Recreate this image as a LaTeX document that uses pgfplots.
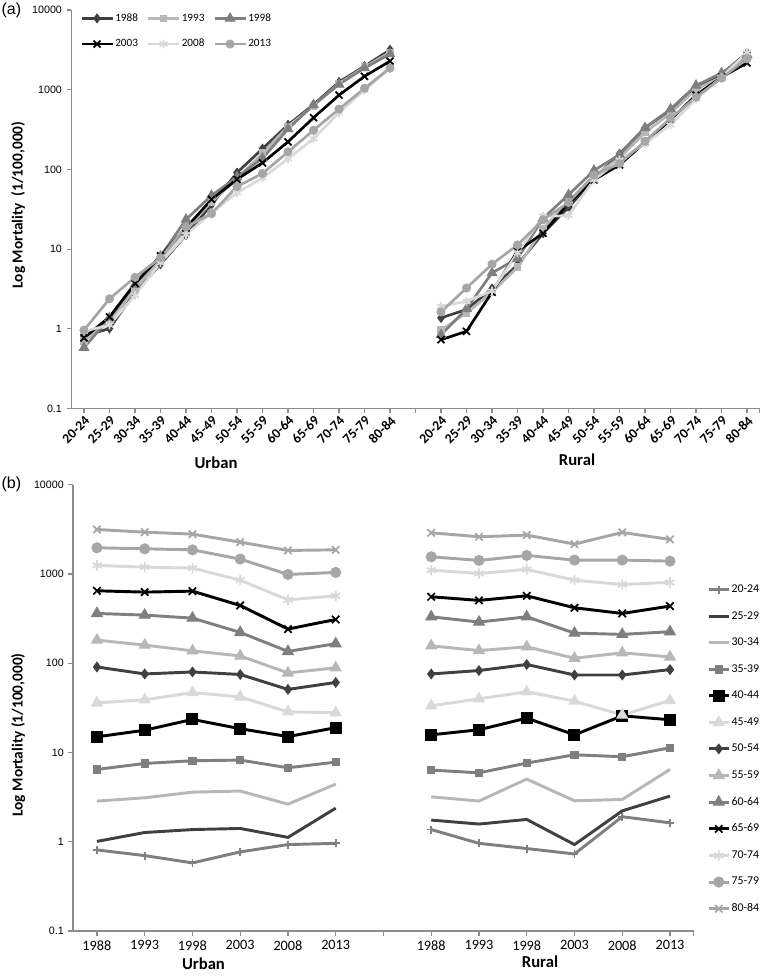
\documentclass[border=0pt]{standalone}
\usepackage{pgfplots}
\usepackage{pgfplotstable}
\pgfplotsset{compat=1.18}
\usepackage{fontspec}
\setmainfont{Carlito}
\newfontfamily\arialfont{Liberation Sans}
\definecolor{cA}{HTML}{404040}
\definecolor{cB}{HTML}{B7B7B7}
\definecolor{cC}{HTML}{7F7F7F}
\definecolor{cD}{HTML}{000000}
\definecolor{cE}{HTML}{D9D9D9}
\definecolor{cF}{HTML}{A6A6A6}
\definecolor{axgray}{HTML}{8C8C8C}

% Panel (a): rows = age groups (urban 0-12, gap 13, rural 14-26), columns = years
\pgfplotstableread{
x  y1988 y1993 y1998 y2003 y2008 y2013
0  0.81 0.70 0.58 0.77 0.93 0.96
1  1.01 1.27 1.37 1.41 1.12 2.38
2  2.86 3.11 3.60 3.70 2.64 4.43
3  6.47 7.55 8.09 8.23 6.75 7.81
4  15.0 17.8 23.5 18.5 15.1 19.0
5  36 39 47 42 28.6 27.9
6  91 76 80 75 51 61
7  182 160 138 121 78 89
8  362 347 321 222 136 166
9  650 628 644 445 242 310
10 1250 1197 1167 855 515 571
11 1972 1920 1870 1472 991 1043
12 3162 2950 2805 2280 1840 1870
13 nan nan nan nan nan nan
14 1.37 0.96 0.84 0.73 1.91 1.63
15 1.75 1.58 1.78 0.93 2.22 3.25
16 3.19 2.86 5.04 2.88 2.98 6.47
17 6.36 5.93 7.62 9.44 8.97 11.3
18 15.8 18.0 24.3 15.8 25.8 23.3
19 33.4 40 48 37.7 26.3 38.4
20 76 83 97 74 74 85
21 157 139 153 114 131 118
22 332 290 332 218 211 226
23 557 507 571 419 362 438
24 1107 1016 1128 855 765 806
25 1563 1422 1618 1435 1435 1397
26 2904 2620 2735 2168 2930 2444
}\tabA

% Panel (b): rows = years (urban 0-5, gap 6, rural 7-12), columns = age groups
\pgfplotstableread{
x  a20 a25 a30 a35 a40 a45 a50 a55 a60 a65 a70 a75 a80
0  0.81 1.01 2.86 6.47 15.0 36 91 182 362 650 1250 1972 3162
1  0.70 1.27 3.11 7.55 17.8 39 76 160 347 628 1197 1920 2950
2  0.58 1.37 3.60 8.09 23.5 47 80 138 321 644 1167 1870 2805
3  0.77 1.41 3.70 8.23 18.5 42 75 121 222 445 855 1472 2280
4  0.93 1.12 2.64 6.75 15.1 28.6 51 78 136 242 515 991 1840
5  0.96 2.38 4.43 7.81 19.0 27.9 61 89 166 310 571 1043 1870
6  nan nan nan nan nan nan nan nan nan nan nan nan nan
7  1.37 1.75 3.19 6.36 15.8 33.4 76 157 332 557 1107 1563 2904
8  0.96 1.58 2.86 5.93 18.0 40 83 139 290 507 1016 1422 2620
9  0.84 1.78 5.04 7.62 24.3 48 97 153 332 571 1128 1618 2735
10 0.73 0.93 2.88 9.44 15.8 37.7 74 114 218 419 855 1435 2168
11 1.91 2.22 2.98 8.97 25.8 26.3 74 131 211 362 765 1435 2930
12 1.63 3.25 6.47 11.3 23.3 38.4 85 118 226 438 806 1397 2444
}\tabB

\pgfplotsset{
  rsaxis/.style={
    scale only axis, anchor=south west,
    axis x line*=bottom, axis y line*=left,
    axis line style={draw=axgray, line width=0.9pt},
    tick style={draw=axgray, line width=0.9pt},
    tick align=outside, major tick length=3.5pt,
    ymin=0.1, ymax=10000,
    ytick={0.1,1,10,100,1000,10000},
    yticklabels={0.1,1,10,100,1000,10000},
    yminorticks=false,
    y tick label style={font=\arialfont\fontsize{8}{9}\selectfont},
    unbounded coords=jump,
    clip=false,
  },
  rsser/.style n args={4}{color=#1, line width=#4, mark=#2, mark size=#3,
    mark options={solid, line width=0.8pt, fill=#1, draw=#1}},
  rsserx/.style n args={4}{color=#1, line width=#4, mark=#2, mark size=#3,
    mark options={solid, line width=1.3pt, draw=#1}},
}

\begin{document}
\begin{tikzpicture}
\useasboundingbox (0,0) rectangle (570pt,735pt);

% ---------------- Panel (a) ----------------
\begin{semilogyaxis}[rsaxis,
  at={(53.44pt,428.6pt)}, width=516.4pt, height=298.9pt,
  xmin=-0.5, xmax=26.5,
  xtick={0,...,26},
  xticklabels={20-24,25-29,30-34,35-39,40-44,45-49,50-54,55-59,60-64,65-69,70-74,75-79,80-84,{},20-24,25-29,30-34,35-39,40-44,45-49,50-54,55-59,60-64,65-69,70-74,75-79,80-84},
  extra x ticks={26.5}, extra x tick labels={},
  x tick label style={rotate=45, anchor=north east, font=\bfseries\fontsize{10.3}{11}\selectfont, inner sep=1pt},
  legend columns=3,
  legend style={at={(axis description cs:0.0127,0.995)}, anchor=north west,
    draw=none, fill=none, inner sep=0pt, font=\fontsize{8.4}{9}\selectfont,
    nodes={inner sep=1pt}, row sep=10pt,
    /tikz/every even column/.append style={column sep=5.6pt}},
  legend image code/.code={\draw[mark repeat=2,mark phase=2,#1] plot coordinates {(0pt,0pt) (11.6pt,0pt) (23.25pt,0pt)};},
]
\addplot[rsser={cA}{diamond*}{3.2pt}{2pt}] table[x=x,y=y1988]{\tabA};
\addplot[rsser={cB}{square*}{2.4pt}{2pt}] table[x=x,y=y1993]{\tabA};
\addplot[rsser={cC}{triangle*}{4pt}{2pt}] table[x=x,y=y1998]{\tabA};
\addplot[rsserx={cD}{x}{3.7pt}{2pt}] table[x=x,y=y2003]{\tabA};
\addplot[rsserx={cE}{asterisk}{3.3pt}{2pt}] table[x=x,y=y2008]{\tabA};
\addplot[rsser={cF}{*}{3pt}{2pt}] table[x=x,y=y2013]{\tabA};
\legend{1988,1993,1998,2003,2008,2013}
\end{semilogyaxis}

% ---------------- Panel (b) ----------------
\begin{semilogyaxis}[rsaxis,
  at={(54.8pt,36.75pt)}, width=465.6pt, height=334.6pt,
  xmin=-0.5, xmax=12.5,
  xtick={0,...,12},
  xticklabels={1988,1993,1998,2003,2008,2013,{},1988,1993,1998,2003,2008,2013},
  extra x ticks={12.5}, extra x tick labels={},
  x tick label style={font=\fontsize{10.7}{12}\selectfont},
  legend style={at={(axis description cs:1.0212,0.779)}, anchor=north west,
    draw=none, fill=none, inner sep=0pt, font=\fontsize{8.9}{10}\selectfont,
    nodes={inner sep=1pt}, row sep=10.6pt},
  legend image code/.code={\draw[mark repeat=2,mark phase=2,#1] plot coordinates {(0pt,0pt) (7.5pt,0pt) (15pt,0pt)};},
]
\addplot[rsserx={cC}{+}{3pt}{2.2pt}] table[x=x,y=a20]{\tabB};
\addplot[color=cA, line width=2.2pt, mark=none] table[x=x,y=a25]{\tabB};
\addplot[color=cB, line width=2.2pt, mark=none] table[x=x,y=a30]{\tabB};
\addplot[rsser={cC}{square*}{2.7pt}{2.2pt}] table[x=x,y=a35]{\tabB};
\addplot[rsser={cD}{square*}{4.1pt}{2.2pt}] table[x=x,y=a40]{\tabB};
\addplot[rsser={cE}{triangle*}{4.6pt}{2.2pt}] table[x=x,y=a45]{\tabB};
\addplot[rsser={cA}{diamond*}{3.5pt}{2.2pt}] table[x=x,y=a50]{\tabB};
\addplot[rsser={cB}{triangle*}{4.6pt}{2.2pt}] table[x=x,y=a55]{\tabB};
\addplot[rsser={cC}{triangle*}{4.6pt}{2.2pt}] table[x=x,y=a60]{\tabB};
\addplot[rsserx={cD}{x}{3.9pt}{2.2pt}] table[x=x,y=a65]{\tabB};
\addplot[rsserx={cE}{asterisk}{3.9pt}{2.2pt}] table[x=x,y=a70]{\tabB};
\addplot[rsser={cF}{*}{3.75pt}{2.2pt}] table[x=x,y=a75]{\tabB};
\addplot[rsserx={cF}{x}{3.9pt}{2.2pt}] table[x=x,y=a80]{\tabB};
\legend{20-24,25-29,30-34,35-39,40-44,45-49,50-54,55-59,60-64,65-69,70-74,75-79,80-84}
\end{semilogyaxis}

% ---------------- Texts ----------------
\node[anchor=base west, inner sep=0pt, font=\arialfont\fontsize{12}{14}\selectfont] at (1pt,723.75pt) {(a)};
\node[anchor=base west, inner sep=0pt, font=\arialfont\fontsize{12}{14}\selectfont] at (1pt,368.25pt) {(b)};
\node[anchor=base, rotate=90, inner sep=0pt, font=\bfseries\fontsize{11.5}{13}\selectfont] at (17pt,581.25pt) {Log Mortality~~(1/100,000)};
\node[anchor=base, rotate=90, inner sep=0pt, font=\bfseries\fontsize{11.5}{13}\selectfont] at (17pt,183.75pt) {Log Mortality (1/100,000)};
\node[inner sep=0pt, font=\bfseries\fontsize{12.5}{14}\selectfont] at (162pt,388pt) {Urban};
\node[inner sep=0pt, font=\bfseries\fontsize{12.5}{14}\selectfont] at (432.75pt,390pt) {Rural};
\node[inner sep=0pt, font=\bfseries\fontsize{12.5}{14}\selectfont] at (152.6pt,12pt) {Urban};
\node[inner sep=0pt, font=\bfseries\fontsize{12.5}{14}\selectfont] at (405pt,13.5pt) {Rural};
\end{tikzpicture}
\end{document}
